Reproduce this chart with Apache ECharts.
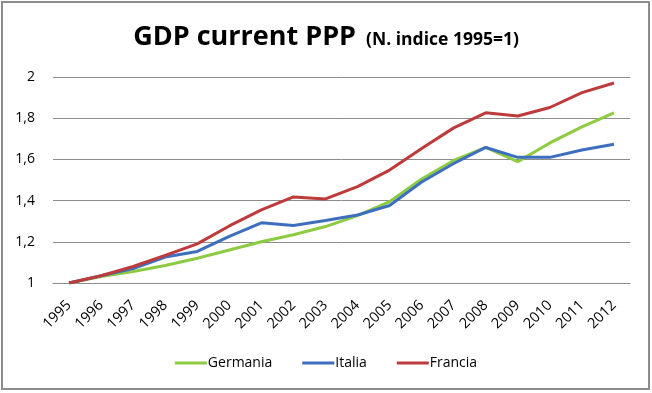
<!DOCTYPE html>
<html><head><meta charset="utf-8">
<script src="https://cdn.jsdelivr.net/npm/echarts@6/dist/echarts.min.js"></script>
<style>html,body{margin:0;padding:0;background:#fff}#c{width:652px;height:393px}</style>
</head><body><div id="c"></div>
<script>
const years = ['1995','1996','1997','1998','1999','2000','2001','2002','2003','2004','2005','2006','2007','2008','2009','2010','2011','2012'];
const germania = [1.00,1.032,1.056,1.085,1.12,1.16,1.20,1.234,1.274,1.327,1.395,1.505,1.595,1.658,1.589,1.68,1.758,1.826];
const italia   = [1.00,1.035,1.07,1.126,1.153,1.226,1.292,1.279,1.303,1.33,1.376,1.49,1.58,1.658,1.61,1.61,1.646,1.674];
const francia  = [1.00,1.035,1.08,1.134,1.19,1.277,1.355,1.418,1.408,1.468,1.548,1.653,1.753,1.826,1.811,1.852,1.924,1.971];
const yTicks = [1,1.2,1.4,1.6,1.8,2];
const font = 'Open Sans, Liberation Sans, sans-serif';
const chart = echarts.init(document.getElementById('c'));
const mk = (name, data, color) => ({name, type:'line', data, symbol:'none', smooth:false,
  lineStyle:{width:3, color}, itemStyle:{color}});
chart.setOption({
  animation:false,
  graphic:[{type:'rect', shape:{x:2,y:2,width:647,height:387}, style:{fill:'none', stroke:'#8c8c8c', lineWidth:2}}],
  title:{left:'center', top:19, text:'{a|GDP current PPP}  {b|(N. indice 1995=1)}',
    textStyle:{rich:{a:{fontSize:27,fontWeight:'bold',fontFamily:font,color:'#000'},
                     b:{fontSize:17.5,fontWeight:'bold',fontFamily:font,color:'#000',padding:[5,0,0,0]}}}},
  grid:{left:53, right:22, top:77, bottom:110},
  legend:{bottom:18, left:'center', itemWidth:32, itemHeight:3, itemGap:30, icon:'rect',
    textStyle:{fontSize:14, fontFamily:font, color:'#000', padding:[0,0,0,-4]},
    data:['Germania','Italia','Francia']},
  xAxis:{type:'category', data:years, boundaryGap:true,
    axisLine:{show:true, lineStyle:{color:'#8c8c8c', width:1}}, axisTick:{show:false},
    axisLabel:{rotate:45, fontSize:14.5, fontFamily:font, color:'#000', interval:0, margin:20}},
  yAxis:{type:'value', min:1, max:2, interval:0.2,
    axisLine:{show:false}, axisTick:{show:false},
    splitLine:{lineStyle:{color:'#8c8c8c', width:1}},
    axisLabel:{fontSize:14, fontFamily:font, color:'#000', margin:18,
      formatter:v => String(Math.round(v*10)/10).replace('.', ',')}},
  series:[mk('Germania', germania, '#8DCB41'), mk('Italia', italia, '#3E6FBF'), mk('Francia', francia, '#BE3B3B')]
});
</script></body></html>
